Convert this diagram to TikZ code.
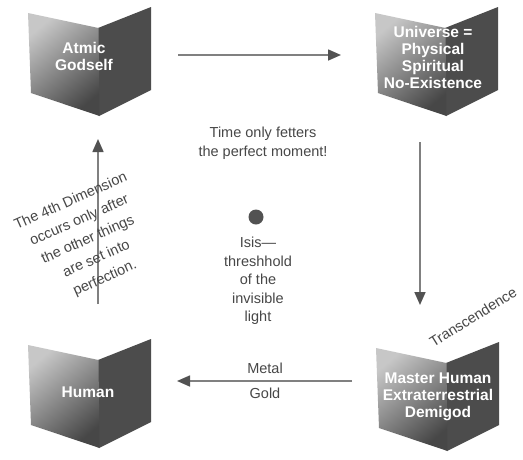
\documentclass[tikz,border=0pt]{standalone}
\usepackage{fontspec}
\setmainfont{Liberation Sans}
\usetikzlibrary{arrows.meta}
\begin{document}
\begin{tikzpicture}[x=1pt,y=-1pt,
  conn/.style={draw=black!50, line width=1.6pt, -{Triangle[length=13pt,width=11pt,color=black!68,fill=black!68]}},
  boxlabel/.style={text=white, font=\fontsize{15.5}{17}\selectfont\bfseries, align=center, inner sep=0pt},
  txt/.style={text=black!72, font=\fontsize{14.5}{18.5}\selectfont, align=center, inner sep=0pt},
  cube/.pic={
    \fill[black!70] (70,15) -- (123,-6) -- (123,77) -- (71,103) -- cycle;
    \shade[top color=black!22, middle color=black!68, bottom color=black!72, shading angle=40]
      (0,0) -- (70.5,15) -- (71.5,103) -- (3,80) -- cycle;
  }]
\useasboundingbox (0,0) rectangle (523,459);
\fill[white] (0,0) rectangle (523,459);

% boxes
\pic at (28,13) {cube};
\pic at (375,13) {cube};
\pic at (28,345) {cube};
\pic at (376,348) {cube};

\node[boxlabel] (atmic) at (84,56) {Atmic\\Godself};
\node[boxlabel] (universe) at (433,57) {Universe =\\Physical\\Spiritual\\No-Existence};
\node[boxlabel] (human) at (88,392) {Human};
\node[boxlabel] (master) at (438,397) {Master Human\\Extraterrestrial\\Demigod};

% arrows
\coordinate (a1s) at (178,55);  \coordinate (a1e) at (341,55);
\coordinate (a2s) at (420,142); \coordinate (a2e) at (420,305);
\coordinate (a3s) at (352,381); \coordinate (a3e) at (177,381);
\coordinate (a4s) at (98,304);  \coordinate (a4e) at (98,139);
\draw[conn] (a1s) -- (a1e);
\draw[conn] (a2s) -- (a2e);
\draw[conn] (a3s) -- (a3e);
\draw[conn] (a4s) -- (a4e);

% center
\node[txt] (time) at (263,143) {Time only fetters\\the perfect moment!};
\node[circle, fill=black!68, minimum size=15pt, inner sep=0pt] (dot) at (256,217) {};
\node[txt] (isis) at (258,281) {Isis—\\threshhold\\of the\\invisible\\light};
\node[txt] (metal) at (265,368) {Metal};
\node[txt] (gold) at (265,393) {Gold};
\node[txt, rotate=32] (trans) at (473,317) {Transcendence};
\node[txt, rotate=24, font=\fontsize{14.5}{21}\selectfont] (fourth) at (88,240)
  {The 4th Dimension\\occurs only after\\the other things\\are set into\\perfection.};
\end{tikzpicture}
\end{document}
